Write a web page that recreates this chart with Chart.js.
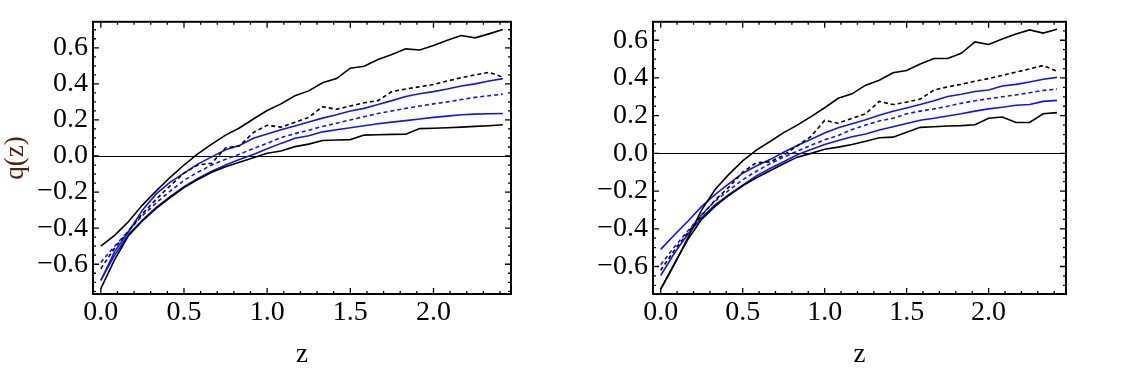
<!DOCTYPE html>
<html>
<head>
<meta charset="utf-8">
<title>q(z)</title>
<script src="https://cdn.jsdelivr.net/npm/chart.js@4.4.0/dist/chart.umd.min.js"></script>
<style>
body { margin: 0; background: #fff; }
#wrap { position: relative; width: 1129px; height: 369px; }
.panel { position: absolute; top: 0; height: 369px; }
</style>
</head>
<body>
<div id="wrap">
  <div class="panel" style="left:0;width:564px"><canvas id="leftChart"></canvas></div>
  <div class="panel" style="left:564px;width:565px"><canvas id="rightChart"></canvas></div>
</div>
<script>
// redshift samples (both panels)
const zValues = [0, 0.083, 0.167, 0.25, 0.333, 0.417, 0.5, 0.583, 0.667, 0.75,
  0.833, 0.917, 1.0, 1.083, 1.167, 1.25, 1.333, 1.417, 1.5, 1.583,
  1.667, 1.75, 1.833, 1.917, 2.0, 2.083, 2.167, 2.25, 2.333, 2.417];

const xTickValues = [0, 0.5, 1.0, 1.5, 2.0];
const yTickValues = [-0.6, -0.4, -0.2, 0, 0.2, 0.4, 0.6];

// left panel
const leftBlackUpper = [-0.50, -0.44, -0.363, -0.272, -0.193, -0.118, -0.05, 0.012, 0.066, 0.116,
  0.155, 0.205, 0.252, 0.289, 0.334, 0.361, 0.406, 0.429, 0.487, 0.498,
  0.535, 0.563, 0.594, 0.588, 0.613, 0.642, 0.668, 0.655, 0.677, 0.701];
const leftBlackLower = [-0.735, -0.575, -0.44, -0.36, -0.29, -0.23, -0.175, -0.13, -0.09, -0.06,
  -0.035, -0.01, 0.015, 0.028, 0.052, 0.066, 0.086, 0.089, 0.091, 0.116,
  0.118, 0.12, 0.121, 0.152, 0.154, 0.157, 0.16, 0.164, 0.168, 0.173];
const leftBlackDotted = [-0.625, -0.51, -0.415, -0.32, -0.24, -0.165, -0.095, -0.05, -0.04, 0.045,
  0.055, 0.13, 0.17, 0.16, 0.187, 0.214, 0.273, 0.259, 0.277, 0.295,
  0.307, 0.357, 0.371, 0.384, 0.396, 0.416, 0.434, 0.45, 0.464, 0.437];
const leftBlueUpper = [-0.69, -0.53, -0.42, -0.30, -0.21, -0.145, -0.095, -0.045, -0.005, 0.035,
  0.058, 0.098, 0.122, 0.145, 0.166, 0.188, 0.21, 0.229, 0.25, 0.264,
  0.286, 0.307, 0.33, 0.345, 0.357, 0.371, 0.388, 0.40, 0.416, 0.429];
const leftBlueLower = [-0.69, -0.55, -0.435, -0.355, -0.285, -0.225, -0.17, -0.125, -0.085, -0.05,
  -0.02, 0.008, 0.04, 0.07, 0.098, 0.112, 0.134, 0.146, 0.157, 0.168,
  0.179, 0.188, 0.196, 0.205, 0.214, 0.221, 0.229, 0.232, 0.234, 0.236];
const leftBlueDashed = [-0.59, -0.50, -0.415, -0.33, -0.26, -0.195, -0.135, -0.09, -0.05, -0.018,
  0.01, 0.042, 0.07, 0.102, 0.124, 0.143, 0.164, 0.182, 0.2, 0.218,
  0.236, 0.25, 0.264, 0.277, 0.289, 0.30, 0.313, 0.325, 0.334, 0.343];

// right panel
const rightBlackUpper = [-0.72, -0.59, -0.445, -0.30, -0.19, -0.11, -0.04, 0.017, 0.063, 0.11,
  0.15, 0.195, 0.242, 0.292, 0.316, 0.362, 0.388, 0.428, 0.44, 0.474,
  0.503, 0.503, 0.531, 0.591, 0.578, 0.607, 0.633, 0.655, 0.638, 0.659];
const rightBlackLower = [-0.72, -0.585, -0.455, -0.35, -0.28, -0.222, -0.172, -0.13, -0.092, -0.055,
  -0.02, 0.0, 0.022, 0.033, 0.047, 0.064, 0.083, 0.086, 0.112, 0.138,
  0.141, 0.145, 0.147, 0.152, 0.186, 0.193, 0.164, 0.164, 0.21, 0.216];
const rightBlackDotted = [-0.62, -0.514, -0.419, -0.328, -0.247, -0.178, -0.10, -0.05, -0.045, -0.01,
  0.04, 0.09, 0.175, 0.16, 0.186, 0.21, 0.276, 0.259, 0.272, 0.288,
  0.336, 0.353, 0.366, 0.383, 0.397, 0.414, 0.431, 0.448, 0.466, 0.436];
const rightBlueUpper = [-0.509, -0.433, -0.359, -0.281, -0.217, -0.16, -0.105, -0.067, -0.033, 0.006,
  0.042, 0.075, 0.108, 0.136, 0.157, 0.178, 0.202, 0.224, 0.241, 0.259,
  0.279, 0.302, 0.314, 0.328, 0.336, 0.357, 0.366, 0.379, 0.393, 0.403];
const rightBlueLower = [-0.648, -0.53, -0.428, -0.341, -0.272, -0.217, -0.169, -0.12, -0.08, -0.044,
  -0.007, 0.021, 0.047, 0.068, 0.088, 0.103, 0.124, 0.141, 0.159, 0.176,
  0.186, 0.198, 0.21, 0.224, 0.236, 0.245, 0.255, 0.259, 0.276, 0.281];
const rightBlueDashed = [-0.591, -0.497, -0.41, -0.324, -0.252, -0.195, -0.14, -0.095, -0.055, -0.02,
  0.012, 0.043, 0.072, 0.095, 0.127, 0.15, 0.172, 0.186, 0.21, 0.224,
  0.236, 0.25, 0.266, 0.279, 0.29, 0.30, 0.31, 0.322, 0.334, 0.341];

const serif = 'Liberation Serif, Times New Roman, serif';
const blue = '#1414f0';

function fmt(v) {
  if (Math.abs(v) < 1e-9) return '0.0';
  return (v < 0 ? '\u2212' : '') + Math.abs(v).toFixed(1);
}

// zero line + Mathematica style frame with inward ticks
const frameTicks = {
  id: 'frameTicks',
  beforeDatasetsDraw(chart) {
    const { ctx, chartArea: a, scales: { y } } = chart;
    const y0 = Math.round(y.getPixelForValue(0)) + 0.5;
    ctx.save();
    ctx.strokeStyle = '#000';
    ctx.lineWidth = 1;
    ctx.beginPath();
    ctx.moveTo(a.left, y0);
    ctx.lineTo(a.right, y0);
    ctx.stroke();
    ctx.restore();
  },
  afterDatasetsDraw(chart) {
    const { ctx, chartArea: a, scales: { x, y } } = chart;
    ctx.save();
    ctx.strokeStyle = '#000';
    ctx.lineWidth = 1.3;
    ctx.beginPath();
    for (let i = Math.ceil(x.min / 0.1 - 1e-6); i * 0.1 <= x.max + 1e-6; i++) {
      const len = (i % 5 === 0) ? 6 : 3;
      const px = x.getPixelForValue(i * 0.1);
      ctx.moveTo(px, a.bottom); ctx.lineTo(px, a.bottom - len);
      ctx.moveTo(px, a.top); ctx.lineTo(px, a.top + len);
    }
    for (let i = Math.ceil(y.min / 0.05 - 1e-6); i * 0.05 <= y.max + 1e-6; i++) {
      const len = (((i % 4) + 4) % 4 === 0) ? 6 : 3;
      const py = y.getPixelForValue(i * 0.05);
      ctx.moveTo(a.left, py); ctx.lineTo(a.left + len, py);
      ctx.moveTo(a.right, py); ctx.lineTo(a.right - len, py);
    }
    ctx.stroke();
    ctx.lineWidth = 2;
    ctx.strokeRect(a.left, a.top, a.right - a.left, a.bottom - a.top);
    ctx.restore();
  }
};

function series(vals, color, dash) {
  return {
    data: zValues.map((z, i) => ({ x: z, y: vals[i] })),
    borderColor: color,
    borderWidth: 1.6,
    borderDash: dash || [],
    pointRadius: 0,
    tension: 0,
    fill: false
  };
}

function makePanel(id, sets, xMax, yMin, yMax, yAxisWidth, padRight, yTitle) {
  return new Chart(document.getElementById(id), {
    type: 'line',
    data: {
      datasets: [
        series(sets[0], '#000'),
        series(sets[1], '#000'),
        series(sets[2], '#000', [4, 3]),
        series(sets[3], blue),
        series(sets[4], blue),
        series(sets[5], blue, [4, 3])
      ]
    },
    options: {
      responsive: true,
      maintainAspectRatio: false,
      animation: false,
      events: [],
      layout: { padding: { left: 0, right: padRight, top: 16, bottom: 0 } },
      plugins: { legend: { display: false }, tooltip: { enabled: false } },
      scales: {
        x: {
          type: 'linear',
          min: -0.047,
          max: xMax,
          afterFit(s) { s.height = 75; },
          afterBuildTicks(s) { s.ticks = xTickValues.map(v => ({ value: v })); },
          grid: { display: false, drawTicks: false },
          border: { display: false },
          ticks: {
            font: { family: serif, size: 28 },
            color: '#000',
            padding: 2,
            maxRotation: 0,
            autoSkip: false,
            callback: v => fmt(v)
          },
          title: {
            display: true,
            text: 'z',
            color: '#000',
            font: { family: serif, size: 27, lineHeight: 1 },
            padding: { top: 0, bottom: 1 }
          }
        },
        y: {
          min: yMin,
          max: yMax,
          afterFit(s) { s.width = yAxisWidth; },
          afterBuildTicks(s) { s.ticks = yTickValues.map(v => ({ value: v })); },
          grid: { display: false, drawTicks: false },
          border: { display: false },
          ticks: {
            font: { family: serif, size: 28 },
            color: '#000',
            padding: 5,
            autoSkip: false,
            callback: v => fmt(v)
          },
          title: {
            display: !!yTitle,
            text: yTitle || '',
            color: '#4a2417',
            font: { family: serif, size: 27, lineHeight: 1 },
            padding: { top: 2, bottom: 0 }
          }
        }
      }
    },
    plugins: [frameTicks]
  });
}

makePanel('leftChart',
  [leftBlackUpper, leftBlackLower, leftBlackDotted, leftBlueUpper, leftBlueLower, leftBlueDashed],
  2.466, -0.765, 0.744, 93, 53, 'q(z)');
makePanel('rightChart',
  [rightBlackUpper, rightBlackLower, rightBlackDotted, rightBlueUpper, rightBlueLower, rightBlueDashed],
  2.472, -0.746, 0.698, 89, 63, null);
</script>
</body>
</html>
